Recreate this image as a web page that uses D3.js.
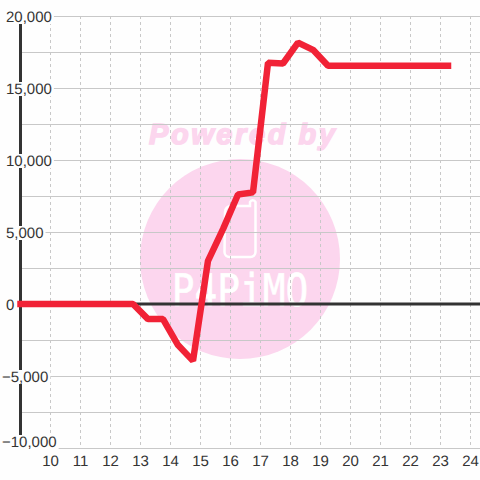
<html>
	<meta charset="UTF-8">
	<head>
		<title>chart</title>
		<style>
			body { margin: 0; background: #fefefe; }
			svg { display: block; }
			text { font-family: "Liberation Sans", sans-serif; text-rendering: geometricPrecision; }
		</style>
	</head>

	<body>
        <script src="https://d3js.org/d3.v7.min.js"></script>
        <script>
            let x_ticks = [10, 11, 12, 13, 14, 15, 16, 17, 18, 19, 20, 21, 22, 23, 24]
            let y_labels = [20000, 15000, 10000, 5000, 0, -5000, -10000]
            let y_grid = [20000, 17500, 15000, 12500, 10000, 7500, 5000, 2500, -2500, -5000, -7500, -10000]

            let line_x = [9, 12.75, 13.25, 13.75, 14.25, 14.75, 15.25, 15.75, 16.25, 16.75, 17.25, 17.75, 18.25, 18.75, 19.25, 23.25]
            let line_y = [0, 0, -1050, -1050, -2850, -3950, 3000, 5200, 7600, 7750, 16750, 16700, 18150, 17650, 16550, 16550]

            let x = d3.scaleLinear().domain([10, 24]).range([50.5, 470.5])
            let y = d3.scaleLinear().domain([-10000, 20000]).range([448, 16])
            let fmt = d3.format(",")

            let canvas = d3.select("body")
                .append('svg')
                .attr("width", 480)
                .attr('height', 480)

            // watermark sits below the grid
            let mark = canvas.append('g')
            mark.append('circle')
                .attr('cx', 240).attr('cy', 259).attr('r', 100)
                .attr('fill', '#fcd6ee')
            mark.append('text')
                .attr('x', 149).attr('y', 144)
                .attr('font-size', 29)
                .attr('font-weight', 'bold')
                .attr('font-style', 'italic')
                .attr('textLength', 186)
                .attr('fill', '#fcd6ee')
                .attr('stroke', '#fcd6ee')
                .attr('stroke-width', 1.5)
                .text('Powered by')
            mark.append('path')
                .attr('d', 'M225 212 a6 6 0 0 1 6 -6 h19 v-4 a3 3 0 0 1 5.5 0 v50 a5 5 0 0 1 -5 5 h-21 a5 5 0 0 1 -5 -5 z')
                .attr('fill', 'none')
                .attr('stroke', '#fff')
                .attr('stroke-width', 2.5)
            mark.append('text')
                .attr('transform', 'translate(240,306) scale(0.84,1)')
                .attr('text-anchor', 'middle')
                .attr('font-size', 45)
                .style('font-family', '"DejaVu Sans Mono"')
                .attr('fill', '#fff')
                .attr('stroke', '#fff')
                .attr('stroke-width', 0.6)
                .text('P4PiMO')

            // grid
            canvas.append('g').selectAll('line')
                .data(x_ticks).enter()
                .append('line')
                .attr('x1', d => x(d)).attr('x2', d => x(d))
                .attr('y1', 16).attr('y2', 448)
                .attr('stroke', '#c8c8c8')
                .attr('stroke-dasharray', '3,3')

            canvas.append('g').selectAll('line')
                .data(y_grid).enter()
                .append('line')
                .attr('x1', 20).attr('x2', 480)
                .attr('y1', d => y(d) + 0.5).attr('y2', d => y(d) + 0.5)
                .attr('stroke', '#c8c8c8')

            // axes
            canvas.append('line')
                .attr('x1', 20.5).attr('x2', 20.5)
                .attr('y1', 10).attr('y2', 448)
                .attr('stroke', '#333')
                .attr('stroke-width', 3)
            canvas.append('line')
                .attr('x1', 20).attr('x2', 480)
                .attr('y1', y(0)).attr('y2', y(0))
                .attr('stroke', '#333')
                .attr('stroke-width', 3)

            // y labels hang from a fixed left edge, each on a box that cuts the lines behind it
            let label_y = d => d == -10000 ? y(d) - 7 : y(d)
            let y_text = canvas.append('g').selectAll('g')
                .data(y_labels).enter()
                .append('g')
            let y_box = y_text.append('rect')
                .attr('fill', '#fefefe')
            y_text.append('text')
                .attr('x', d => d < 0 ? 2 : 6)
                .attr('y', d => label_y(d) + 6)
                .attr('font-size', 15)
                .attr('fill', '#333')
                .text(d => fmt(d))
            y_box
                .attr('x', 0)
                .attr('y', d => label_y(d) - 6)
                .attr('height', 14)
                .attr('width', function(d) {
                    return (d < 0 ? 2 : 6) + this.parentNode.querySelector('text').getComputedTextLength() + 2
                })

            canvas.append('g').selectAll('text')
                .data(x_ticks).enter()
                .append('text')
                .attr('x', d => x(d))
                .attr('y', 466)
                .attr('text-anchor', 'middle')
                .attr('font-size', 15)
                .attr('fill', '#333')
                .text(d => d)

            let path = d3.line()
                .x(d => x(d[0]))
                .y(d => y(d[1]))

            canvas.append('path')
                .attr('d', path(d3.zip(line_x, line_y)))
                .attr('fill', 'none')
                .attr('stroke', '#f12236')
                .attr('stroke-width', 6.5)
                .attr('stroke-linejoin', 'bevel')
                .attr('stroke-linecap', 'square')
        </script>
    </body>

</html>
